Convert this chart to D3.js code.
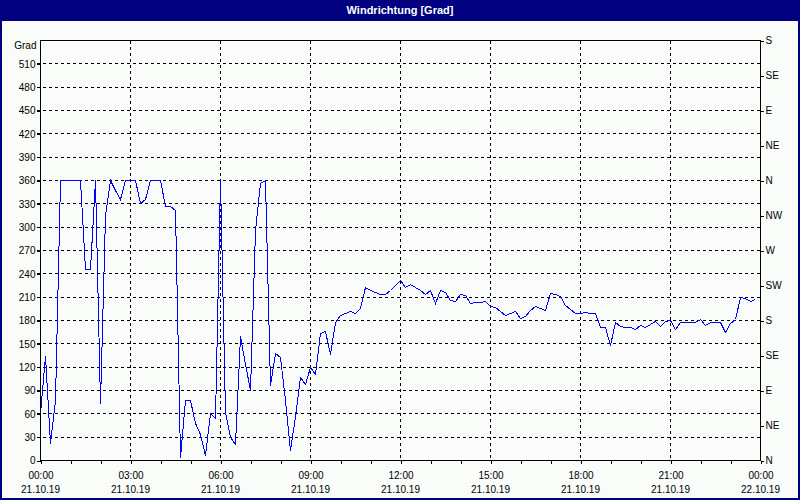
<!DOCTYPE html>
<html><head><meta charset="utf-8">
<script src="https://cdn.jsdelivr.net/npm/d3@7"></script>
<style>html,body{margin:0;padding:0;background:#fff;overflow:hidden}</style>
</head><body><svg id="c" width="800" height="500"></svg>
<script>
// ---- data ----
const chartTitle = "Windrichtung [Grad]";
const startTime = "2019-10-21T00:00:00";
const endTime = "2019-10-22T00:00:00";
const stepMinutes = 10;
const windDir = [
  60,134,22,77,360,
  360,360,360,360,245,245,360,
  73,315,360,347,336,360,360,360,
  330,335,360,360,360,326,326,321,
  4,77,77,47,34,6,60,54,
  360,62,30,21,159,124,90,296,
  356,360,96,137,133,77,13,56,
  107,98,119,111,163,166,136,178,
  186,189,191,189,195,222,218,216,
  214,214,219,225,231,223,226,223,
  219,214,218,202,219,216,206,204,
  213,212,202,203,203,204,198,197,
  192,186,189,192,183,185,193,198,
  196,193,215,213,211,199,194,189,
  189,190,189,189,171,171,148,177,
  172,171,171,169,174,171,175,179,
  172,179,180,168,178,177,177,178,
  181,174,177,177,177,165,176,181,
  209,208,204,207
];
const leftTicks = [0,30,60,90,120,150,180,210,240,270,300,330,360,390,420,450,480,510];
const leftUnit = "Grad";
const compassTicks = [0,45,90,135,180,225,270,315,360,405,450,495,540];
const compassLabels = ["N","NE","E","SE","S","SW","W","NW","N","NE","E","SE","S"];
const majorHours = [0,3,6,9,12,15,18,21,24];
const yMax = 540;

// ---- chart ----
const W = 800, H = 500;
const L = 40, R = 760, T = 40, B = 460;
const parse = d3.timeParse("%Y-%m-%dT%H:%M:%S");
const t0 = parse(startTime), t1 = parse(endTime);
const data = windDir.map((v, i) => ({t: d3.timeMinute.offset(t0, i * stepMinutes), v}));

const svg = d3.select("#c");
svg.append("rect").attr("width", W).attr("height", H).attr("fill", "#f9fcf9");
svg.append("rect").attr("x", 0).attr("y", 0).attr("width", W).attr("height", 21).attr("fill", "#000080");
svg.append("rect").attr("x", 1).attr("y", 1).attr("width", W - 2).attr("height", H - 2)
  .attr("fill", "none").attr("stroke", "#000080").attr("stroke-width", 2);
svg.append("text").attr("x", W / 2).attr("y", 14).attr("text-anchor", "middle")
  .attr("fill", "#fff").attr("font-family", "Liberation Sans, Arial, sans-serif")
  .attr("font-weight", "bold").attr("font-size", 11).text(chartTitle);

const x = d3.scaleTime().domain([t0, t1]).range([L, R]);
const y = d3.scaleLinear().domain([0, yMax]).range([B, T]);

const g = svg.append("g").attr("transform", "translate(0.5,0.5)");
const font = "Liberation Sans, Arial, sans-serif";

// horizontal grid
g.append("g").selectAll("line").data(leftTicks.filter(d => d > 0)).join("line")
  .attr("x1", L - 4).attr("x2", R).attr("y1", d => Math.round(y(d))).attr("y2", d => Math.round(y(d)))
  .attr("stroke", "#000").attr("stroke-dasharray", "3,3").attr("shape-rendering", "crispEdges");
// vertical grid
const majorTimes = majorHours.map(h => d3.timeHour.offset(t0, h));
g.append("g").selectAll("line").data(majorTimes.slice(1, -1)).join("line")
  .attr("x1", d => Math.round(x(d))).attr("x2", d => Math.round(x(d))).attr("y1", T).attr("y2", B)
  .attr("stroke", "#000").attr("stroke-dasharray", "3,3").attr("shape-rendering", "crispEdges");

// data line
const line = d3.line().x(d => Math.round(x(d.t))).y(d => Math.round(y(d.v)));
g.append("path").datum(data).attr("d", line).attr("fill", "none")
  .attr("stroke", "#0000ff").attr("stroke-width", 1).attr("shape-rendering", "crispEdges");

// frame
g.append("rect").attr("x", L).attr("y", T).attr("width", R - L).attr("height", B - T)
  .attr("fill", "none").attr("stroke", "#000").attr("shape-rendering", "crispEdges");

// left axis
const ax = d3.axisLeft(y).tickValues(leftTicks).tickSizeInner(4).tickSizeOuter(0).tickPadding(1);
const gl = g.append("g").attr("transform", `translate(${L},0)`).call(ax);
gl.select(".domain").remove();
gl.selectAll("text").attr("font-family", font).attr("font-size", 10).attr("fill", "#000");
gl.selectAll("line").attr("shape-rendering", "crispEdges");
g.append("text").attr("x", L - 4).attr("y", y(yMax) + 5).attr("dy", "0.32em").attr("text-anchor", "end")
  .attr("font-family", font).attr("font-size", 10).text(leftUnit);

// right axis
const ar = d3.axisRight(y).tickValues(compassTicks).tickFormat((d, i) => compassLabels[i])
  .tickSizeInner(3).tickSizeOuter(0).tickPadding(2);
const gr = g.append("g").attr("transform", `translate(${R},0)`).call(ar);
gr.select(".domain").remove();
gr.selectAll("text").attr("font-family", font).attr("font-size", 10).attr("fill", "#000");
gr.selectAll("line").attr("shape-rendering", "crispEdges");

// bottom axis: hourly ticks, labels every 3h
const hourTimes = d3.range(0, 25).map(h => d3.timeHour.offset(t0, h));
const ab = d3.axisBottom(x).tickValues(hourTimes).tickSizeInner(3).tickSizeOuter(0)
  .tickFormat(d => (d.getHours() % 3 === 0) ? d3.timeFormat("%H:%M")(d) : "").tickPadding(8);
const gb = g.append("g").attr("transform", `translate(0,${B})`).call(ab);
gb.select(".domain").remove();
gb.selectAll("text").attr("font-family", font).attr("font-size", 10).attr("fill", "#000");
gb.selectAll("line").attr("shape-rendering", "crispEdges");
g.append("g").selectAll("text").data(majorTimes).join("text")
  .attr("x", d => x(d)).attr("y", B + 29).attr("dy", "0.32em").attr("text-anchor", "middle")
  .attr("font-family", font).attr("font-size", 10).text(d => d3.timeFormat("%d.%m.%y")(d));
</script></body></html>
